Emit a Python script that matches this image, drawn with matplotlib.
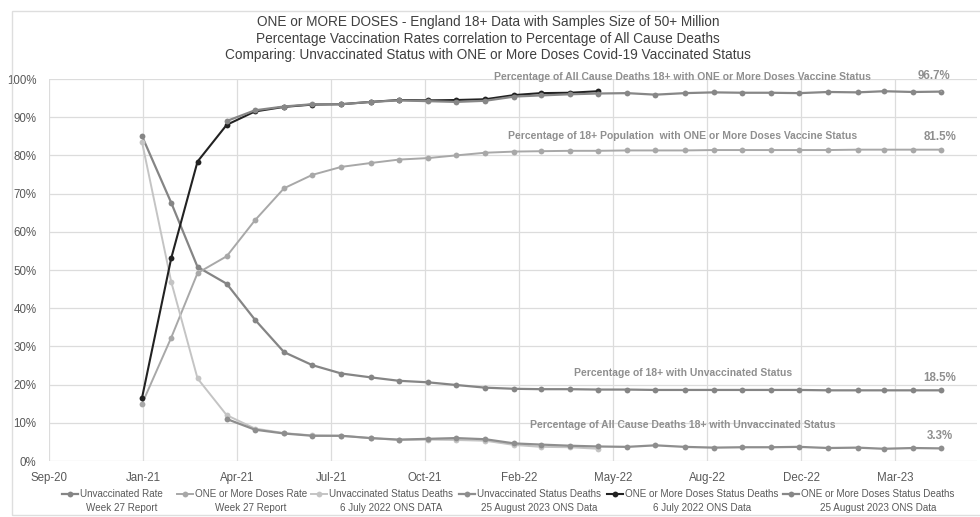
import matplotlib
matplotlib.use("Agg")
import matplotlib.pyplot as plt
import matplotlib.dates as mdates
from matplotlib.ticker import FuncFormatter, FixedLocator
from matplotlib.patches import Rectangle
from matplotlib.lines import Line2D
import pandas as pd
import numpy as np

# ---------------- data ----------------
months_all = pd.date_range("2021-01-01", "2023-05-01", freq="MS")      # Jan-21 .. May-23
months_jul22 = pd.date_range("2021-01-01", "2022-05-01", freq="MS")    # Jan-21 .. May-22
months_aug23 = pd.date_range("2021-04-01", "2023-05-01", freq="MS")    # Apr-21 .. May-23

unvax_rate = [85.0, 67.6, 50.8, 46.4, 37.0, 28.5, 25.1, 22.9, 21.9, 21.0, 20.6, 19.9,
              19.2, 18.9, 18.8, 18.8, 18.7, 18.7, 18.6, 18.6, 18.6, 18.6, 18.6, 18.6,
              18.5, 18.5, 18.5, 18.5, 18.5]
vax_rate = [15.0, 32.3, 49.2, 53.6, 63.0, 71.4, 74.9, 77.0, 78.0, 78.9, 79.3, 80.0,
            80.7, 81.0, 81.1, 81.2, 81.2, 81.3, 81.3, 81.3, 81.4, 81.4, 81.4, 81.4,
            81.4, 81.5, 81.5, 81.5, 81.5]
unvax_deaths_jul22 = [83.4, 46.9, 21.6, 12.0, 8.5, 7.3, 6.7, 6.6, 6.0, 5.5, 5.6, 5.5,
                      5.3, 4.2, 3.7, 3.6, 3.2]
vax_deaths_jul22 = [16.6, 53.1, 78.4, 88.0, 91.5, 92.7, 93.3, 93.4, 94.0, 94.5, 94.4, 94.5,
                    94.7, 95.8, 96.3, 96.4, 96.8]
unvax_deaths_aug23 = [11.0, 8.2, 7.2, 6.6, 6.6, 6.0, 5.6, 5.8, 6.0, 5.7, 4.6, 4.3, 4.0,
                      3.8, 3.7, 4.1, 3.7, 3.5, 3.6, 3.6, 3.7, 3.4, 3.5, 3.2, 3.4, 3.3]
vax_deaths_aug23 = [89.0, 91.8, 92.8, 93.4, 93.4, 94.0, 94.4, 94.2, 94.0, 94.3, 95.4, 95.7,
                    96.0, 96.2, 96.3, 95.9, 96.3, 96.5, 96.4, 96.4, 96.3, 96.6, 96.5, 96.8,
                    96.6, 96.7]

legend_line1 = [
    "Unvaccinated Rate",
    "ONE or More Doses Rate",
    "Unvaccinated Status Deaths",
    "Unvaccinated Status Deaths",
    "ONE or More Doses Status Deaths",
    "ONE or More Doses Status Deaths",
]
legend_line2 = [
    "Week 27 Report",
    "Week 27 Report",
    "6 July 2022 ONS DATA",
    "25 August 2023 ONS Data",
    "6 July 2022 ONS Data",
    "25 August 2023 ONS Data",
]
title_lines = [
    "ONE or MORE DOSES - England 18+ Data with Samples Size of 50+ Million",
    "Percentage Vaccination Rates correlation to Percentage of All Cause Deaths",
    "Comparing: Unvaccinated Status with ONE or More Doses Covid-19 Vaccinated Status",
]
series_notes = [
    "Percentage of All Cause Deaths 18+ with ONE or More Doses Vaccine Status",
    "Percentage of 18+ Population  with ONE or More Doses Vaccine Status",
    "Percentage of 18+ with Unvaccinated Status",
    "Percentage of All Cause Deaths 18+ with Unvaccinated Status",
]

# ---------------- style ----------------
plt.rcParams["font.family"] = ["Liberation Sans", "DejaVu Sans"]

W, H = 980, 517
fig = plt.figure(figsize=(W / 100, H / 100), dpi=100)
fig.patch.set_facecolor("white")

# chart border
fig.patches.append(Rectangle((12 / W, 1 - 515 / H), 1.2, (515 - 11) / H,
                             transform=fig.transFigure, fill=False,
                             edgecolor="#dedede", linewidth=1.0))

left_px, right_px, top_px, bottom_px = 49, 977, 79, 461
ax = fig.add_axes([left_px / W, 1 - bottom_px / H, (right_px - left_px) / W,
                   (bottom_px - top_px) / H])

d0 = pd.Timestamp("2020-09-24")
x0 = mdates.date2num(d0)
ax.set_xlim(x0, x0 + 987)
ax.set_ylim(0, 100)

ticks = [x0 + 100 * k for k in range(10)]
ax.xaxis.set_major_locator(FixedLocator(ticks))
ax.xaxis.set_major_formatter(mdates.DateFormatter("%b-%y"))
ax.set_yticks(np.arange(0, 101, 10))
ax.yaxis.set_major_formatter(FuncFormatter(lambda v, p: f"{int(v)}%"))

ax.grid(True, color="#dcdcdc", linewidth=0.9)
ax.set_axisbelow(True)
for s in ax.spines.values():
    s.set_visible(False)
ax.tick_params(axis="both", length=0, labelsize=8.3, colors="#595959", pad=8)
ax.tick_params(axis="y", pad=9)

colors = ["#858585", "#a8a8a8", "#c4c4c4", "#8e8e8e", "#222222", "#878787"]
widths = [1.6, 1.4, 1.4, 1.6, 1.5, 1.6]
data = [
    (months_all, unvax_rate),
    (months_all, vax_rate),
    (months_jul22, unvax_deaths_jul22),
    (months_aug23, unvax_deaths_aug23),
    (months_jul22, vax_deaths_jul22),
    (months_aug23, vax_deaths_aug23),
]
for (xs, ys), c, lw in zip(data, colors, widths):
    ax.plot(xs, ys, color=c, lw=lw, marker="o", markersize=4.2, markeredgewidth=0)

# title
for i, line in enumerate(title_lines):
    fig.text(488 / W, 1 - (22 + 16.5 * i) / H, line, ha="center", va="center",
             fontsize=9.8, color="#404040")

# series notes
note_kw = dict(ha="center", va="center", fontsize=7.5, color="#8f8f8f", fontweight="bold")
fig.text(682 / W, 1 - 77 / H, series_notes[0], **note_kw)
fig.text(683 / W, 1 - 136 / H, series_notes[1], **note_kw)
fig.text(683 / W, 1 - 373 / H, series_notes[2], **note_kw)
fig.text(683 / W, 1 - 425 / H, series_notes[3], **note_kw)

val_kw = dict(ha="center", va="center", fontsize=8.3, color="#8f8f8f", fontweight="bold")
ax.annotate(f"{vax_deaths_aug23[-1]:.1f}%", xy=(months_aug23[-1], vax_deaths_aug23[-1]),
            xytext=(934, H - 76), textcoords="figure pixels",
            arrowprops=dict(arrowstyle="-", color="#b0b0b0", lw=0.8,
                            shrinkA=5, shrinkB=2), **val_kw)
fig.text(940 / W, 1 - 137 / H, f"{vax_rate[-1]:.1f}%", **val_kw)
fig.text(940 / W, 1 - 378 / H, f"{unvax_rate[-1]:.1f}%", **val_kw)
fig.text(940 / W, 1 - 436 / H, f"{unvax_deaths_aug23[-1]:.1f}%", **val_kw)

# legend (built by hand: handle + first line, second line centred under it)
handle_x = [62, 177, 311, 459, 607, 783]
row1_y, row2_y = 494, 508
renderer = fig.canvas.get_renderer()
for hx, c, lw, l1, l2 in zip(handle_x, colors, widths, legend_line1, legend_line2):
    fig.add_artist(Line2D([hx / W, (hx + 16) / W], [1 - row1_y / H] * 2, color=c, lw=lw,
                          transform=fig.transFigure))
    fig.add_artist(Line2D([(hx + 8) / W], [1 - row1_y / H], color=c, marker="o",
                          markersize=4.2, markeredgewidth=0, transform=fig.transFigure))
    t = fig.text((hx + 18) / W, 1 - row1_y / H, l1, ha="left", va="center",
                 fontsize=7.1, color="#595959")
    bb = t.get_window_extent(renderer=renderer)
    cx = (bb.x0 + bb.x1) / 2
    fig.text(cx / W, 1 - row2_y / H, l2, ha="center", va="center",
             fontsize=7.1, color="#595959")

fig.savefig("out.png", dpi=100)
